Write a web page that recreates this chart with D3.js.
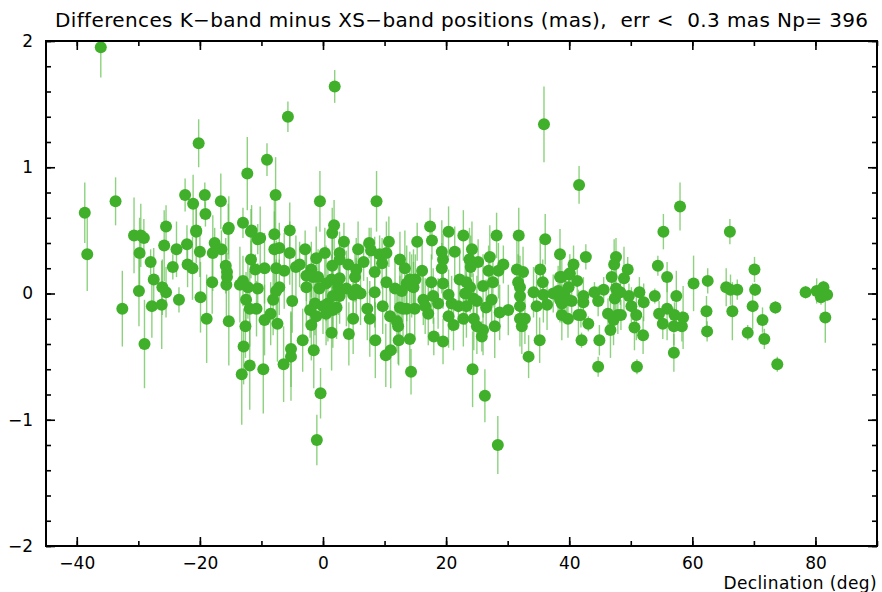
<!DOCTYPE html>
<html>
<head>
<meta charset="utf-8">
<script src="https://cdn.jsdelivr.net/npm/d3@7"></script>
<style>
body { margin: 0; background: #fff; }
svg { display: block; }
</style>
</head>
<body>
<script>
// K-band minus XS-band source positions, declination (deg), difference (mas), error (mas)
var decl = [
	-36.1, -38.7, -38.3, -33.7, -32.6, -20.2, -12.3, -22.4, -21.1, -19.2, -19.1, -16.6, -25.5, -20.6, -15.3, -13.0, -11.6, -9.1, -7.7, -0.5,
	8.7, -5.4, 1.8, 35.9, 41.6, 58.0, 1.9, -5.7,
	55.3, 66.1, 42.7, 40.7, 38.5, 47.6, 47.3, 49.5, 46.9, 48.9, 54.4, 55.9, 70.1, 60.2, 62.5, 65.5, 67.3, 66.2, 70.2, 78.4, 80.2, 81.3,
	81.9, 80.9, 81.6, 69.8, 71.4, 71.7, 73.8, 73.5, 69.0, 66.5, 62.4, 62.3, 57.4, 55.9, 53.9, 54.6, 55.2, 57.0, 58.3, 58.5,
	57.1, 57.0, 52.0, 51.0, 44.7, 44.9, 42.0, 46.7, 50.6, 43.1, 41.9, 39.8, 46.3, 47.2, 47.9, 48.4, 50.9, 52.1, 51.4, 49.7,
	50.1, 47.6, 48.3, 47.4, 45.6, 44.7, 44.1, 42.3, 42.3, 41.3, 39.9, 40.0, 38.8, 39.3, 40.4, 38.8, 38.8,
	-30.7, -29.6, -29.1, -29.8, -28.0, -25.8, -23.8, -22.1, -20.6, -24.4, -22.0, -21.2, -20.0, -17.6, -17.9, -16.5, -15.4, -11.7, -10.6, -15.8,
	-15.6, -15.6, -15.7, -11.7, -11.0, -10.6, -27.5, -26.1, -25.5, -29.9, -23.4, -18.0, -19.9, -27.8, -26.2, -18.9, -15.3, -13.5, -13.0, -12.2,
	-11.9, -10.8, -12.6, -12.9, -11.9, -13.2, -29.0,
	-9.7, -6.4, -5.2, -5.2, -3.3, -1.5, -0.4, -1.0, 1.4, 4.2, 8.5, 10.2, 11.0, 12.3,
	14.1, 14.3, 18.0, 19.5, 24.3, 26.3, 28.4, 25.8, 33.4, 35.2,
	-10.2, -7.9, 1.5, 3.4, 7.5, 10.7, 15.3, -7.9, -7.1, -5.4, -2.9, 0.3, 2.7, 5.7, 7.8, 9.2, 10.3, -9.5, -7.6, -6.3,
	-4.4, -3.8, -1.1, 1.5, 2.7, 4.1, 5.4, 6.6, 8.4, 9.6, 12.5, 13.3, 14.7, -7.6, -7.1, -2.7, -1.9, -1.6, -0.6, 0.5,
	1.4, 2.7, 2.5, 3.8, 5.2, 6.1, 4.9, 1.6, 2.7, 0.8, 2.2, 8.4, 10.3, 11.7, 13.6, 14.7, -5.0, -8.1, -8.5, -9.5,
	-7.4, -2.1, -1.3, -1.1, -1.9, 0.0, 0.5, 1.6, 4.9, 7.2, 7.6, 9.7, 10.9, 12.0, 12.2, 13.0, 14.9, -2.7, -0.8, 5.4,
	-12.5,
	17.4, 20.4, 22.8, 28.2, 31.8, 36.1, 17.7, 19.3, 21.4, 24.2, 23.8, 19.5, 25.2, 27.1, 29.3, 16.1, 19.3, 24.0, 26.9, 28.5,
	31.5, 32.5, 35.3, 38.5, 40.1, 14.1, 15.0, 14.4, 17.6, 19.5, 22.2, 23.3, 23.9, 26.0, 27.6, 31.7, 32.0, 35.7, 12.8, 17.9,
	20.4, 23.1, 24.4, 27.4, 32.0, 34.2, 35.8, 37.4, 38.2, 12.5, 13.6, 16.3, 16.6, 17.1, 18.7, 20.9, 22.0, 23.3, 25.0, 26.5,
	20.4, 22.8, 21.2, 24.5, 25.0, 26.0, 27.9, 28.7, 30.1, 32.0, 32.0, 32.8, 34.7, 36.4, 38.5, 39.6, 41.5, 32.3
];
var diffK = [
	1.95, 0.64, 0.31, 0.73, -0.12, 1.19, 0.95, 0.78, 0.71, 0.78, 0.63, 0.73, 0.53, 0.50, 0.52, 0.56, 0.50, 1.06, 0.78, 0.73,
	0.73, 0.50, 0.54, 1.34, 0.86, 0.69, 1.64, 1.40,
	0.49, 0.49, 0.29, 0.23, 0.31, 0.29, 0.23, 0.19, 0.13, 0.12, 0.22, 0.13, 0.19, 0.08, 0.10, 0.05, 0.03, 0.03, 0.03, 0.01, 0.02, 0.05,
	-0.01, -0.03, -0.19, -0.10, -0.21, -0.36, -0.56, -0.11, -0.31, -0.14, -0.30, -0.14, -0.02, -0.12, -0.02, -0.16, -0.24, -0.26, -0.26, -0.19,
	-0.17, -0.47, -0.33, -0.58, -0.58, -0.37, -0.37, -0.29, -0.27, -0.24, -0.17, -0.20, -0.16, -0.21, -0.17, -0.17, -0.17, -0.07, 0.01, -0.02,
	-0.10, 0.04, 0.01, -0.04, 0.03, -0.06, 0.01, -0.02, -0.07, 0.10, 0.05, 0.15, 0.13, -0.02, -0.06, -0.08, -0.17,
	0.46, 0.46, 0.44, 0.32, 0.25, 0.38, 0.35, 0.39, 0.49, 0.21, 0.23, 0.20, 0.33, 0.40, 0.32, 0.35, 0.51, 0.49, 0.43, 0.22,
	0.17, 0.13, 0.07, 0.27, 0.19, 0.04, 0.11, 0.05, 0.01, 0.02, -0.05, 0.09, -0.03, -0.10, -0.09, -0.20, -0.22, 0.07, 0.10, 0.05,
	-0.12, -0.12, -0.26, -0.42, -0.57, -0.64, -0.40,
	-0.60, -0.56, -0.50, -0.44, -0.37, -0.45, -0.79, -1.16, -0.31, -0.32, -0.37, -0.49, -0.45, -0.37,
	-0.36, -0.62, -0.34, -0.38, -0.60, -0.81, -1.20, -0.34, -0.50, -0.37,
	0.44, 0.47, 0.48, 0.41, 0.40, 0.41, 0.41, 0.35, 0.36, 0.32, 0.35, 0.32, 0.32, 0.35, 0.34, 0.31, 0.32, 0.20, 0.20, 0.18,
	0.21, 0.23, 0.28, 0.22, 0.27, 0.23, 0.19, 0.25, 0.17, 0.24, 0.27, 0.20, 0.10, 0.02, 0.05, 0.05, 0.19, 0.13, 0.04, 0.08,
	0.11, 0.12, 0.05, 0.04, 0.13, 0.00, -0.01, -0.02, -0.02, -0.08, -0.11, 0.01, 0.09, 0.04, 0.08, 0.05, -0.06, -0.05, -0.16, -0.21,
	-0.24, -0.13, -0.08, -0.18, -0.25, -0.10, -0.16, -0.13, -0.20, -0.12, -0.20, -0.10, -0.18, -0.22, -0.26, -0.12, -0.12, 0.14, 0.13, 0.03,
	-0.05,
	0.53, 0.49, 0.46, 0.46, 0.46, 0.43, 0.42, 0.33, 0.33, 0.35, 0.27, 0.27, 0.25, 0.29, 0.23, 0.18, 0.20, 0.21, 0.18, 0.18,
	0.19, 0.17, 0.19, 0.13, 0.16, 0.11, 0.11, 0.06, 0.09, 0.08, 0.11, 0.09, 0.05, 0.06, 0.09, 0.09, 0.05, 0.09, 0.02, -0.02,
	-0.01, 0.00, -0.04, -0.05, -0.02, 0.01, -0.01, 0.00, 0.02, -0.11, -0.12, -0.05, -0.10, -0.16, -0.08, -0.08, -0.10, -0.10, -0.06, -0.11,
	-0.18, -0.20, -0.25, -0.20, -0.26, -0.29, -0.26, -0.15, -0.13, -0.10, -0.20, -0.20, -0.10, -0.09, -0.05, -0.05, -0.17, -0.26
];
var errK = [
	0.24, 0.24, 0.29, 0.19, 0.30, 0.19, 0.29, 0.13, 0.23, 0.10, 0.10, 0.22, 0.17, 0.20, 0.25, 0.12, 0.20, 0.13, 0.30, 0.24,
	0.24, 0.22, 0.20, 0.30, 0.15, 0.19, 0.13, 0.12,
	0.14, 0.10, 0.10, 0.15, 0.20, 0.15, 0.20, 0.10, 0.18, 0.25, 0.08, 0.12, 0.10, 0.22, 0.10, 0.15, 0.08, 0.12, 0.05, 0.05, 0.10, 0.05,
	0.05, 0.06, 0.20, 0.18, 0.10, 0.08, 0.06, 0.05, 0.06, 0.23, 0.08, 0.12, 0.20, 0.25, 0.06, 0.10, 0.12, 0.15, 0.12, 0.25,
	0.10, 0.15, 0.15, 0.06, 0.08, 0.12, 0.06, 0.22, 0.18, 0.06, 0.10, 0.15, 0.12, 0.20, 0.15, 0.12, 0.20, 0.15, 0.12, 0.10,
	0.15, 0.25, 0.10, 0.12, 0.10, 0.12, 0.08, 0.15, 0.10, 0.12, 0.15, 0.10, 0.20, 0.12, 0.10, 0.15, 0.20,
	0.30, 0.25, 0.15, 0.28, 0.10, 0.28, 0.22, 0.15, 0.25, 0.10, 0.18, 0.25, 0.20, 0.12, 0.30, 0.15, 0.20, 0.18, 0.12, 0.22,
	0.15, 0.10, 0.28, 0.15, 0.12, 0.20, 0.25, 0.22, 0.20, 0.28, 0.10, 0.25, 0.28, 0.25, 0.35, 0.35, 0.35, 0.30, 0.20, 0.25,
	0.30, 0.22, 0.25, 0.30, 0.35, 0.40, 0.35,
	0.35, 0.30, 0.35, 0.30, 0.25, 0.30, 0.20, 0.20, 0.30, 0.25, 0.30, 0.25, 0.30, 0.20,
	0.25, 0.18, 0.15, 0.18, 0.30, 0.21, 0.23, 0.12, 0.17, 0.18,
	0.25, 0.28, 0.20, 0.15, 0.12, 0.20, 0.15, 0.30, 0.20, 0.25, 0.15, 0.20, 0.12, 0.22, 0.18, 0.15, 0.25, 0.28, 0.22, 0.30,
	0.25, 0.18, 0.25, 0.30, 0.22, 0.20, 0.25, 0.15, 0.28, 0.20, 0.22, 0.30, 0.25, 0.25, 0.22, 0.30, 0.22, 0.18, 0.25, 0.30,
	0.20, 0.25, 0.22, 0.30, 0.20, 0.25, 0.18, 0.28, 0.22, 0.30, 0.25, 0.28, 0.25, 0.22, 0.30, 0.20, 0.25, 0.28, 0.25, 0.28,
	0.30, 0.22, 0.25, 0.30, 0.28, 0.22, 0.25, 0.30, 0.28, 0.25, 0.30, 0.22, 0.28, 0.25, 0.30, 0.22, 0.25, 0.20, 0.22, 0.25,
	0.22,
	0.15, 0.20, 0.20, 0.18, 0.22, 0.20, 0.15, 0.25, 0.20, 0.22, 0.25, 0.20, 0.18, 0.25, 0.15, 0.22, 0.20, 0.25, 0.20, 0.22,
	0.25, 0.20, 0.22, 0.18, 0.15, 0.22, 0.20, 0.25, 0.22, 0.20, 0.25, 0.22, 0.20, 0.25, 0.20, 0.22, 0.25, 0.18, 0.25, 0.22,
	0.20, 0.25, 0.20, 0.22, 0.18, 0.20, 0.22, 0.15, 0.20, 0.25, 0.22, 0.20, 0.22, 0.25, 0.20, 0.22, 0.18, 0.25, 0.20, 0.22,
	0.25, 0.22, 0.20, 0.25, 0.22, 0.20, 0.25, 0.22, 0.20, 0.18, 0.22, 0.20, 0.25, 0.20, 0.18, 0.15, 0.20, 0.22
];

var xTicks = [-40, -20, 0, 20, 40, 60, 80];
var yTicks = [-2, -1, 0, 1, 2];
var title = "Differences K\u2212band minus XS\u2212band positions (mas),  err <  0.3 mas Np= 396";
var xLabel = "Declination (deg)";

var W = 882, H = 592;
var padL = 46, padR = 877, padT = 41, padB = 546;
var fontFam = "DejaVu Sans, Liberation Sans, sans-serif";

var svg = d3.select("body")
	.append("svg")
	.attr("width", W)
	.attr("height", H);

var x = d3.scaleLinear().domain([-45, 90]).range([padL, padR]);
var y = d3.scaleLinear().domain([-2, 2]).range([padB, padT]);

svg.append("clipPath")
	.attr("id", "plotclip")
	.append("rect")
	.attr("x", padL)
	.attr("y", padT)
	.attr("width", padR - padL)
	.attr("height", padB - padT);

var pts = decl.map(function(d, i) {
	return { dec: d, dk: diffK[i], err: errK[i] };
});

var plot = svg.append("g").attr("clip-path", "url(#plotclip)");

// error bars first, then the markers
plot.selectAll("line.err")
	.data(pts)
	.enter()
	.append("line")
	.attr("class", "err")
	.attr("x1", function(d) { return x(d.dec); })
	.attr("x2", function(d) { return x(d.dec); })
	.attr("y1", function(d) { return y(d.dk - d.err); })
	.attr("y2", function(d) { return y(d.dk + d.err); })
	.attr("stroke", "#5cbf48")
	.attr("stroke-opacity", 0.7)
	.attr("stroke-width", 1.4);

plot.selectAll("circle")
	.data(pts)
	.enter()
	.append("circle")
	.attr("cx", function(d) { return x(d.dec); })
	.attr("cy", function(d) { return y(d.dk); })
	.attr("r", 6)
	.attr("fill", "#40b02a");

var minorX = d3.range(-40, 91, 10);
var minorY = d3.range(-20, 21, 2).map(function(v) { return v / 10; });

function drawAxis(axis, tr) {
	var g = svg.append("g").attr("transform", tr).call(axis);
	g.select(".domain").remove();
	g.selectAll("line").attr("stroke", "#000").attr("stroke-width", 1.6);
	g.selectAll("text")
		.attr("font-family", fontFam)
		.attr("font-size", 17)
		.attr("fill", "#000");
	return g;
}

// minor ticks, all four sides, pointing inward
drawAxis(d3.axisBottom(x).tickValues(minorX).tickSize(-5).tickFormat(""), "translate(0," + padB + ")");
drawAxis(d3.axisTop(x).tickValues(minorX).tickSize(-5).tickFormat(""), "translate(0," + padT + ")");
drawAxis(d3.axisLeft(y).tickValues(minorY).tickSize(-5).tickFormat(""), "translate(" + padL + ",0)");
drawAxis(d3.axisRight(y).tickValues(minorY).tickSize(-5).tickFormat(""), "translate(" + padR + ",0)");

// major ticks, labels on bottom and left only
drawAxis(d3.axisBottom(x).tickValues(xTicks).tickSize(-9).tickPadding(11).tickFormat(d3.format("d")), "translate(0," + padB + ")");
drawAxis(d3.axisTop(x).tickValues(xTicks).tickSize(-9).tickFormat(""), "translate(0," + padT + ")");
drawAxis(d3.axisLeft(y).tickValues(yTicks).tickSize(-9).tickPadding(13).tickFormat(d3.format("d")), "translate(" + padL + ",0)");
drawAxis(d3.axisRight(y).tickValues(yTicks).tickSize(-9).tickFormat(""), "translate(" + padR + ",0)");

svg.append("rect")
	.attr("x", padL)
	.attr("y", padT)
	.attr("width", padR - padL)
	.attr("height", padB - padT)
	.attr("fill", "none")
	.attr("stroke", "#000")
	.attr("stroke-width", 2);

svg.append("text")
	.attr("x", 55)
	.attr("y", 27)
	.attr("font-family", fontFam)
	.attr("font-size", 20)
	.attr("letter-spacing", 0.37)
	.attr("fill", "#000")
	.style("white-space", "pre")
	.text(title);

svg.append("text")
	.attr("x", padR)
	.attr("y", 589)
	.attr("text-anchor", "end")
	.attr("font-family", fontFam)
	.attr("font-size", 17)
	.attr("letter-spacing", 0.4)
	.attr("fill", "#000")
	.text(xLabel);
</script>
</body>
</html>
